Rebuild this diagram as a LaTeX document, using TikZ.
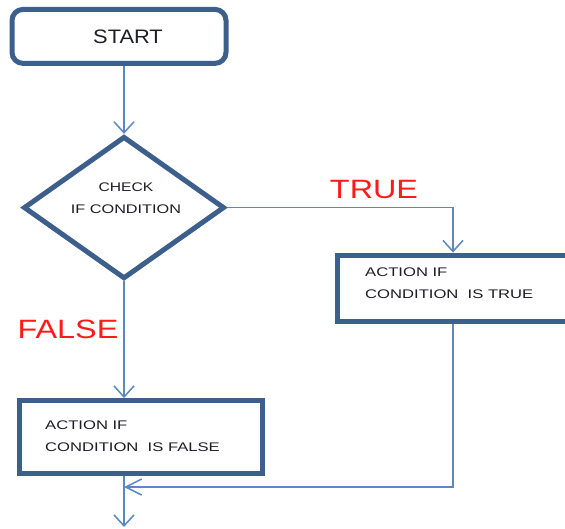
\documentclass[tikz,border=0pt]{standalone}
\usepackage{fontspec}
\setmainfont{Liberation Sans}
\usetikzlibrary{shapes.geometric,arrows.meta,calc}
\definecolor{boxblue}{HTML}{3D5F8C}
\definecolor{linkblue}{HTML}{5A88C2}
\definecolor{flagred}{HTML}{FF1A1A}
\definecolor{inktext}{HTML}{1E1E28}
% horizontally stretched text
\newcommand\widetext[2]{\scalebox{#1}[1]{#2}}

\begin{document}
\begin{tikzpicture}[x=1pt,y=-1pt,
  box/.style={draw=boxblue, line width=5pt, fill=white, inner sep=0pt},
  link/.style={draw=linkblue, line width=1.5pt,
    -{Straight Barb[length=11pt,width=20pt,line width=1.5pt]}},
  linkside/.style={draw=linkblue, line width=1.5pt,
    -{Straight Barb[length=16pt,width=16pt,line width=1.5pt]}},
  smalltxt/.style={inner sep=0pt, align=left, text=inktext,
    font=\fontsize{12.5}{22}\selectfont},
  flag/.style={inner sep=0pt, text=flagred, font=\fontsize{26.5}{30}\selectfont},
]
\useasboundingbox (0,0) rectangle (565,529);

% start terminal
\node[box, rounded corners=11pt, minimum width=214pt, minimum height=54pt]
  (start) at (119,36.4) {};
\node[inner sep=0pt, text=inktext, font=\fontsize{19.5}{22}\selectfont]
  (starttxt) at (128,36.5) {\widetext{1.12}{START}};

% decision
\node[diamond, draw=boxblue, line width=5pt, fill=white, inner sep=0pt,
  minimum width=201pt, minimum height=142.5pt] (check) at (124,207.6) {};
\node[smalltxt, align=center] (checktxt) at (126,198.5)
  {\widetext{1.25}{CHECK}\\\widetext{1.3}{IF CONDITION}};

% branch boxes
\node[box, minimum width=245pt, minimum height=66.5pt] (tbox) at (460,288.3) {};
\node[smalltxt, anchor=west] (ttxt) at (365,283)
  {\widetext{1.33}{ACTION IF}\\\widetext{1.33}{CONDITION\ \ IS TRUE}};

\node[box, minimum width=243.5pt, minimum height=72.5pt] (fbox) at (140.8,436.8) {};
\node[smalltxt, anchor=west] (ftxt) at (45,436)
  {\widetext{1.33}{ACTION IF}\\\widetext{1.33}{CONDITION\ \ IS FALSE}};

% branch labels
\node[flag] (truelbl) at (374,190) {\widetext{1.22}{TRUE}};
\node[flag] (falselbl) at (68,329) {\widetext{1.22}{FALSE}};

% routing points
\coordinate (truecol) at (453,0);
\coordinate (merge) at (124,487);
\coordinate (exit) at (124,527);

% connectors
\draw[link] (start.south -| check.north) -- (check.north);
\draw[link] (check.east) -| (truecol |- tbox.north);
\draw[link] (check.south) -- (check.south |- fbox.north);
\draw[linkside] (truecol |- tbox.south) |- (merge);
\draw[link] (merge |- fbox.south) -- (exit);
\end{tikzpicture}
\end{document}
